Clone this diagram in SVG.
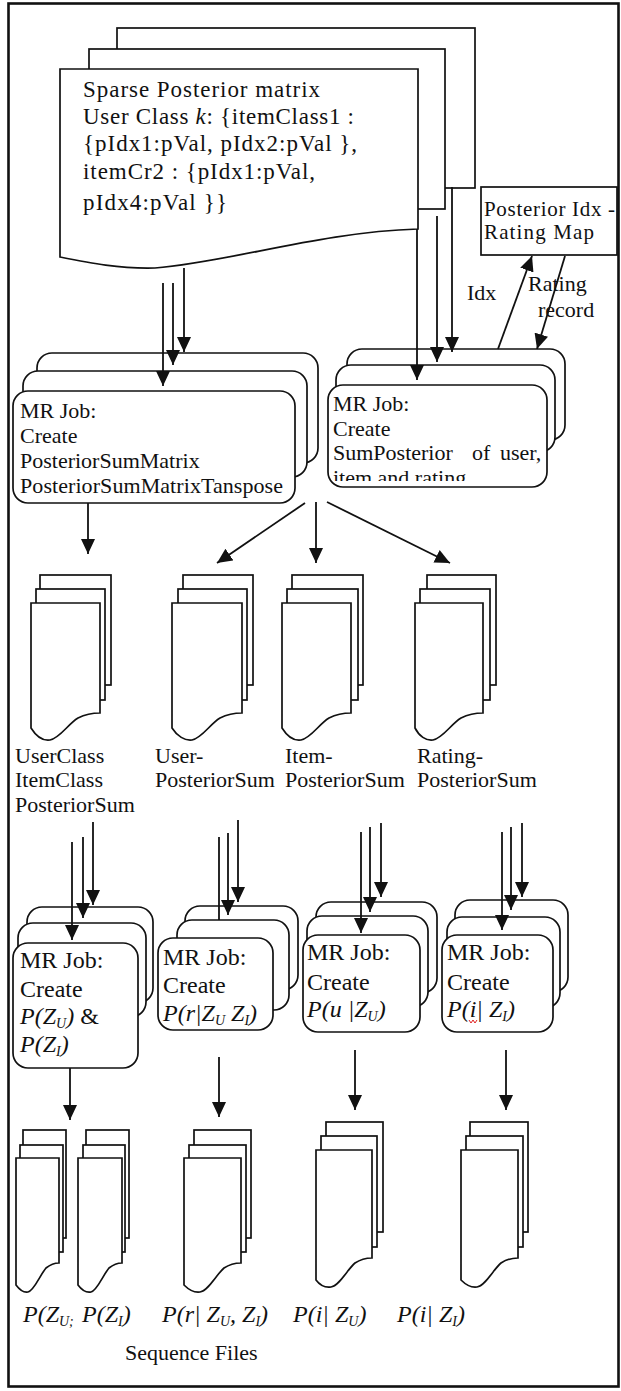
<svg xmlns="http://www.w3.org/2000/svg" width="621" height="1391" viewBox="0 0 621 1391">
  <style>
    .shape { fill: #fff; stroke: #111; stroke-width: 1.7; }
    .frame { fill: #fff; stroke: #111; stroke-width: 2.6; }
    .edge { fill: none; stroke: #111; stroke-width: 1.8; marker-end: url(#arrow); }
    .line { fill: none; stroke: #111; stroke-width: 1.8; }
    text { font-family: "Liberation Serif", "Times New Roman", serif; fill: #111; }
    .t21 { font-size: 21px; }
    .t22 { font-size: 22px; }
    .t23 { font-size: 23px; }
    .t24 { font-size: 24px; }
    .it { font-style: italic; }
  </style>
  <defs>
    <marker id="arrow" markerUnits="userSpaceOnUse" markerWidth="15" markerHeight="14" viewBox="0 0 15 14" refX="15" refY="7" orient="auto">
      <path d="M0,0 L15,7 L0,14 Z" fill="#111"/>
    </marker>
    <clipPath id="clip-sumposterior">
      <rect x="328" y="385" width="219" height="96"/>
    </clipPath>
  </defs>

  <!-- outer frame -->
  <rect class="frame" x="8.5" y="3.5" width="610" height="1383"/>

  <!-- sparse posterior matrix document stack -->
  <g id="sparse-posterior">
    <rect class="shape" x="117" y="28" width="358" height="160"/>
    <rect class="shape" x="89" y="49" width="356" height="160"/>
    <path class="shape" d="M60,69 H418 V229 C320,232 230,262 155,268 C120,269 90,263 60,257 Z"/>
    <text class="t23" x="83" y="97" textLength="237">Sparse Posterior matrix</text>
    <text class="t23" x="83" y="124" textLength="271">User Class <tspan class="it">k</tspan>: {itemClass1 :</text>
    <text class="t23" x="83" y="151" textLength="274">{pIdx1:pVal, pIdx2:pVal },</text>
    <text class="t23" x="83" y="179" textLength="232">itemCr2 : {pIdx1:pVal,</text>
    <text class="t23" x="83" y="210" textLength="144">pIdx4:pVal }}</text>
  </g>

  <!-- index lookup table -->
  <g id="rating-map">
    <rect class="shape" x="481" y="187" width="136" height="68"/>
    <text class="t21" x="484" y="216" textLength="131">Posterior Idx -</text>
    <text class="t21" x="484" y="239" textLength="110">Rating Map</text>
  </g>

  <!-- MR job: posterior sum matrix -->
  <g id="mr-sum-matrix">
    <rect class="shape" x="37" y="353" width="281" height="110" rx="15"/>
    <rect class="shape" x="23" y="371" width="284" height="106" rx="15"/>
    <rect class="shape" x="13" y="391" width="282" height="112" rx="15"/>
    <text class="t22" x="20" y="418">MR Job:</text>
    <text class="t22" x="20" y="443">Create</text>
    <text class="t22" x="20" y="468">PosteriorSumMatrix</text>
    <text class="t22" x="20" y="493" textLength="263">PosteriorSumMatrixTanspose</text>
  </g>

  <!-- MR job: sum posterior -->
  <g id="mr-sum-posterior">
    <rect class="shape" x="347" y="349" width="218" height="91" rx="15"/>
    <rect class="shape" x="336" y="365" width="219" height="87" rx="15"/>
    <rect class="shape" x="328" y="385" width="219" height="102" rx="15"/>
    <text class="t22" x="333" y="411">MR Job:</text>
    <text class="t22" x="333" y="436">Create</text>
    <text class="t22" y="460"><tspan x="333">SumPosterior</tspan><tspan x="472">of</tspan><tspan x="500">user,</tspan></text>
    <text class="t22" x="333" y="485" clip-path="url(#clip-sumposterior)">item and rating</text>
  </g>

  <!-- sequence file stacks, second row -->
  <g id="files-userclass-itemclass">
    <rect class="shape" x="40" y="575" width="71" height="110"/>
    <rect class="shape" x="36" y="589" width="69" height="111"/>
    <path class="shape" d="M31,603 H100 V713 C94,713 86,714 78,718 C68,724 60,738 50,740 C43,741 36,736 31,728 Z"/>
    <text class="t22" x="15" y="763">UserClass</text>
    <text class="t22" x="15" y="787">ItemClass</text>
    <text class="t22" x="15" y="812">PosteriorSum</text>
  </g>
  <g id="files-user-sum">
    <rect class="shape" x="183" y="575" width="70" height="110"/>
    <rect class="shape" x="178" y="589" width="69" height="111"/>
    <path class="shape" d="M172,603 H242 V713 C236,713 228,714 220,718 C210,724 202,738 192,740 C185,741 177,736 172,728 Z"/>
    <text class="t22" x="155" y="763">User-</text>
    <text class="t22" x="155" y="787">PosteriorSum</text>
  </g>
  <g id="files-item-sum">
    <rect class="shape" x="292" y="575" width="71" height="110"/>
    <rect class="shape" x="287" y="589" width="71" height="111"/>
    <path class="shape" d="M282,603 H351 V713 C345,713 337,714 329,718 C319,724 311,738 301,740 C294,741 287,736 282,728 Z"/>
    <text class="t22" x="285" y="763">Item-</text>
    <text class="t22" x="285" y="787">PosteriorSum</text>
  </g>
  <g id="files-rating-sum">
    <rect class="shape" x="427" y="575" width="69" height="110"/>
    <rect class="shape" x="420" y="589" width="70" height="111"/>
    <path class="shape" d="M415,603 H483 V713 C477,713 469,714 461,718 C451,724 443,738 433,740 C426,741 419,736 415,728 Z"/>
    <text class="t22" x="417" y="763">Rating-</text>
    <text class="t22" x="417" y="787">PosteriorSum</text>
  </g>

  <!-- MR jobs, third row -->
  <g id="mr-class-priors">
    <rect class="shape" x="27" y="907" width="126" height="96" rx="15"/>
    <rect class="shape" x="18" y="923" width="128" height="94" rx="15"/>
    <rect class="shape" x="13" y="943" width="125" height="125" rx="15"/>
    <text class="t24" x="20" y="968">MR Job:</text>
    <text class="t24" x="20" y="997">Create</text>
    <text class="t24" x="20" y="1024"><tspan class="it">P(Z</tspan><tspan class="it" font-size="14" dy="4">U</tspan><tspan class="it" dy="-4">)</tspan> &amp;</text>
    <text class="t24" x="20" y="1052"><tspan class="it">P(Z</tspan><tspan class="it" font-size="14" dy="4">I</tspan><tspan class="it" dy="-4">)</tspan></text>
  </g>
  <g id="mr-rating-given-classes">
    <rect class="shape" x="185" y="906" width="113" height="84" rx="15"/>
    <rect class="shape" x="177" y="920" width="112" height="90" rx="15"/>
    <rect class="shape" x="158" y="938" width="115" height="92" rx="15"/>
    <text class="t24" x="163" y="965">MR Job:</text>
    <text class="t24" x="163" y="993">Create</text>
    <text class="t24 it" x="163" y="1021">P(r|Z<tspan font-size="14" dy="4">U</tspan><tspan dy="-4"> Z</tspan><tspan font-size="14" dy="4">I</tspan><tspan dy="-4">)</tspan></text>
  </g>
  <g id="mr-user-given-class">
    <rect class="shape" x="316" y="902" width="121" height="91" rx="15"/>
    <rect class="shape" x="307" y="916" width="121" height="91" rx="15"/>
    <rect class="shape" x="303" y="935" width="117" height="97" rx="15"/>
    <text class="t24" x="307" y="960">MR Job:</text>
    <text class="t24" x="307" y="990">Create</text>
    <text class="t24 it" x="307" y="1017">P(u |Z<tspan font-size="14" dy="4">U</tspan><tspan dy="-4">)</tspan></text>
  </g>
  <g id="mr-item-given-class">
    <rect class="shape" x="455" y="900" width="113" height="92" rx="15"/>
    <rect class="shape" x="447" y="917" width="113" height="91" rx="15"/>
    <rect class="shape" x="442" y="935" width="111" height="97" rx="15"/>
    <text class="t24" x="447" y="960">MR Job:</text>
    <text class="t24" x="447" y="990">Create</text>
    <text class="t24 it" x="447" y="1017">P(i| Z<tspan font-size="14" dy="4">I</tspan><tspan dy="-4">)</tspan></text>
    <path d="M469,1020 l2,3 l2,-3 l2,3 l2,-3" fill="none" stroke="#e02020" stroke-width="1"/>
  </g>

  <!-- sequence file stacks, bottom row -->
  <g id="files-pzu">
    <rect class="shape" x="23" y="1130" width="43" height="108"/>
    <rect class="shape" x="20" y="1145" width="43" height="107"/>
    <path class="shape" d="M16,1158 H59 V1263 C55,1263 51,1264 46,1268 C40,1275 34,1291 28,1292 C23,1293 19,1289 16,1285 Z"/>
    <text class="t24 it" x="23" y="1322">P(Z<tspan font-size="14" dy="4">U;</tspan></text>
  </g>
  <g id="files-pzi">
    <rect class="shape" x="86" y="1130" width="43" height="108"/>
    <rect class="shape" x="83" y="1145" width="42" height="107"/>
    <path class="shape" d="M78,1158 H122 V1263 C118,1263 114,1264 109,1268 C103,1275 97,1291 91,1292 C86,1293 81,1289 78,1285 Z"/>
    <text class="t24 it" x="82" y="1322">P(Z<tspan font-size="14" dy="4">I</tspan><tspan dy="-4">)</tspan></text>
  </g>
  <g id="files-prz">
    <rect class="shape" x="194" y="1130" width="57" height="108"/>
    <rect class="shape" x="189" y="1145" width="57" height="107"/>
    <path class="shape" d="M184,1158 H241 V1263 C236,1263 230,1264 224,1268 C216,1275 208,1291 200,1292 C193,1293 188,1289 184,1285 Z"/>
    <text class="t24 it" x="162" y="1322">P(r| Z<tspan font-size="14" dy="4">U</tspan><tspan dy="-4">, Z</tspan><tspan font-size="14" dy="4">I</tspan><tspan dy="-4">)</tspan></text>
  </g>
  <g id="files-pu">
    <rect class="shape" x="326" y="1122" width="57" height="110"/>
    <rect class="shape" x="321" y="1136" width="56" height="111"/>
    <path class="shape" d="M316,1150 H372 V1258 C367,1258 361,1259 355,1263 C347,1270 339,1286 331,1287 C324,1288 319,1284 316,1280 Z"/>
    <text class="t24 it" x="293" y="1322">P(i| Z<tspan font-size="14" dy="4">U</tspan><tspan dy="-4">)</tspan></text>
  </g>
  <g id="files-pi">
    <rect class="shape" x="470" y="1122" width="58" height="110"/>
    <rect class="shape" x="466" y="1136" width="57" height="111"/>
    <path class="shape" d="M461,1150 H518 V1258 C513,1258 507,1259 501,1263 C493,1270 485,1286 477,1287 C470,1288 465,1284 461,1280 Z"/>
    <text class="t24 it" x="397" y="1322">P(i| Z<tspan font-size="14" dy="4">I</tspan><tspan dy="-4">)</tspan></text>
  </g>

  <g id="caption">
    <text class="t22" x="125" y="1360">Sequence Files</text>
  </g>

  <!-- connectors -->
  <g id="connectors">
    <line class="edge" x1="163" y1="283" x2="163" y2="386"/>
    <line class="edge" x1="173" y1="283" x2="173" y2="365"/>
    <line class="edge" x1="184" y1="268" x2="184" y2="352"/>
    <line class="edge" x1="417" y1="229" x2="417" y2="380"/>
    <line class="edge" x1="437" y1="216" x2="437" y2="362"/>
    <line class="edge" x1="452" y1="187" x2="452" y2="352"/>
    <line class="edge" x1="498" y1="349" x2="532" y2="256"/>
    <line class="edge" x1="565" y1="256" x2="537" y2="349"/>

    <line class="edge" x1="88" y1="503" x2="88" y2="554"/>
    <line class="edge" x1="305" y1="503" x2="217" y2="563"/>
    <line class="edge" x1="316" y1="502" x2="316" y2="563"/>
    <line class="edge" x1="327" y1="502" x2="450" y2="563"/>

    <line class="edge" x1="72" y1="842" x2="72" y2="940"/>
    <line class="edge" x1="83" y1="837" x2="83" y2="918"/>
    <line class="edge" x1="93" y1="822" x2="93" y2="905"/>
    <line class="line" x1="219" y1="837" x2="219" y2="920"/>
    <line class="edge" x1="228" y1="833" x2="228" y2="915"/>
    <line class="edge" x1="238" y1="820" x2="238" y2="902"/>
    <line class="edge" x1="361" y1="832" x2="361" y2="933"/>
    <line class="edge" x1="370" y1="827" x2="370" y2="912"/>
    <line class="edge" x1="381" y1="823" x2="381" y2="897"/>
    <line class="edge" x1="502" y1="832" x2="502" y2="930"/>
    <line class="edge" x1="511" y1="827" x2="511" y2="910"/>
    <line class="edge" x1="522" y1="823" x2="522" y2="897"/>

    <line class="edge" x1="70" y1="1068" x2="70" y2="1120"/>
    <line class="edge" x1="219" y1="1057" x2="219" y2="1117"/>
    <line class="edge" x1="355" y1="1050" x2="355" y2="1110"/>
    <line class="edge" x1="506" y1="1050" x2="506" y2="1110"/>
  </g>

  <!-- edge labels -->
  <g id="edge-labels">
    <text class="t22" x="467" y="300">Idx</text>
    <text class="t22" x="528" y="291">Rating</text>
    <text class="t22" x="538" y="317">record</text>
  </g>
</svg>
